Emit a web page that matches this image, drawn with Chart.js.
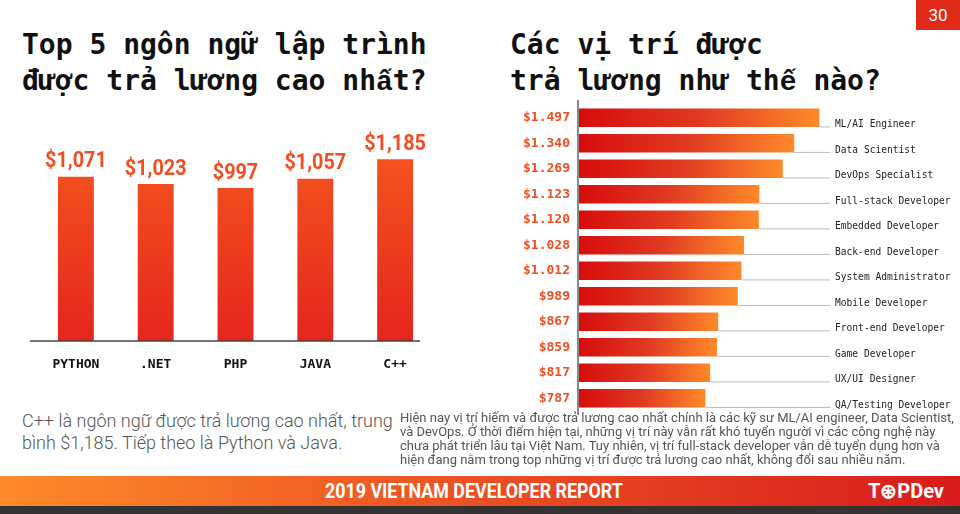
<!DOCTYPE html>
<html><head><meta charset="utf-8">
<script src="https://cdn.jsdelivr.net/npm/chart.js@4"></script>
<style>
body{margin:0;width:960px;height:514px;background:#fff;position:relative;overflow:hidden;font-family:Roboto,sans-serif}
.t{position:absolute;font-family:'DejaVu Sans Mono',monospace;font-weight:bold;font-size:28px;color:#111;line-height:36px;white-space:nowrap}
.t span{font-family:'Liberation Mono',monospace}
.p{position:absolute;color:#555;font-family:Roboto,sans-serif;transform-origin:0 0;white-space:nowrap}
#c1wrap{position:absolute;left:0;top:0;width:460px;height:400px}
#c2wrap{position:absolute;left:500px;top:100px;width:460px;height:315px}
#pg{position:absolute;right:0;top:0;width:44px;height:30px;background:#e02a1a;color:#fff;font-size:17px;text-align:center;line-height:30px}
#ban{position:absolute;left:0;top:476px;width:960px;height:30px;background:linear-gradient(90deg,#ff8a2a,#ef5a24 40%,#d81c1c)}
#ban .tx{position:absolute;left:325px;color:#fff;font-family:Roboto,sans-serif;font-weight:bold;font-size:21px;line-height:30px;transform:scaleX(0.85);transform-origin:0 0;white-space:nowrap}
#ban .lg{position:absolute;right:16px;color:#fff;font-weight:bold;font-size:20px;line-height:30px}
#dk{position:absolute;left:0;top:506px;width:960px;height:8px;background:#333}
</style></head><body>
<div class="t" style="left:22px;top:27px">Top 5 ngôn ngữ lập trình<br>được trả lương cao nh<span>&#x1EA5;</span>t?</div>
<div class="t" style="left:510px;top:27px">Các vị trí được<br>trả lương như th<span>&#x1EBF;</span> nào?</div>
<div id="pg">30</div>
<div id="c1wrap"><canvas id="c1"></canvas></div>
<div id="c2wrap"><canvas id="c2"></canvas></div>
<div class="p" style="left:22px;top:410px;font-size:18px;line-height:22px;font-weight:300">C++ là ngôn ngữ được trả lương cao nhất, trung<br>bình $1,185. Tiếp theo là Python và Java.</div>
<div class="p" style="left:400px;top:411px;font-size:13px;line-height:14px">Hiện nay vị trí hiếm và được trả lương cao nhất chính là các kỹ sư ML/AI engineer, Data Scientist,<br>và DevOps. Ở thời điểm hiện tại, những vị trí này vẫn rất khó tuyển người vì các công nghệ này<br>chưa phát triển lâu tại Việt Nam. Tuy nhiên, vị trí full-stack developer vẫn dễ tuyển dụng hơn và<br>hiện đang nằm trong top những vị trí được trả lương cao nhất, không đổi sau nhiều năm.</div>
<div id="ban"><div class="tx">2019 VIETNAM DEVELOPER REPORT</div><div class="lg">T⊛PDev</div></div>
<div id="dk"></div>
<script>
const languages = ['PYTHON', '.NET', 'PHP', 'JAVA', 'C++'];
const langSalary = [1071, 1023, 997, 1057, 1185];
const langLabels = ['$1,071', '$1,023', '$997', '$1,057', '$1,185'];

const roles = ['ML/AI Engineer', 'Data Scientist', 'DevOps Specialist', 'Full-stack Developer', 'Embedded Developer',
  'Back-end Developer', 'System Administrator', 'Mobile Developer', 'Front-end Developer', 'Game Developer',
  'UX/UI Designer', 'QA/Testing Developer'];
const roleSalary = [1497, 1340, 1269, 1123, 1120, 1028, 1012, 989, 867, 859, 817, 787];
const roleLabels = ['$1.497', '$1.340', '$1.269', '$1.123', '$1.120', '$1.028', '$1.012', '$989', '$867', '$859', '$817', '$787'];

const accent = '#f04e23';

function vGrad(ctx) {
  const { chart } = ctx;
  if (!chart.chartArea) return accent;
  const y = chart.scales.y;
  const g = chart.ctx.createLinearGradient(0, y.getPixelForValue(1200), 0, y.getPixelForValue(0));
  g.addColorStop(0, '#f4521f'); g.addColorStop(1, '#e5261c');
  return g;
}
function hGrad(ctx) {
  const { chart } = ctx;
  if (!chart.chartArea || ctx.raw == null) return '#e53';
  const x = chart.scales.x;
  const g = chart.ctx.createLinearGradient(x.getPixelForValue(0), 0, x.getPixelForValue(ctx.raw), 0);
  g.addColorStop(0, '#d80c0c'); g.addColorStop(0.5, '#e03a22'); g.addColorStop(1, '#ff8a2a');
  return g;
}

const langDecor = {
  id: 'langDecor',
  afterDatasetsDraw(chart) {
    const c = chart.ctx, meta = chart.getDatasetMeta(0), base = chart.scales.y.getPixelForValue(0);
    c.save();
    c.strokeStyle = '#444'; c.lineWidth = 1.5;
    c.beginPath(); c.moveTo(30, base); c.lineTo(420, base); c.stroke();
    c.textAlign = 'center';
    meta.data.forEach((bar, i) => {
      c.fillStyle = accent; c.font = 'bold 22px Roboto, sans-serif';
      c.textBaseline = 'bottom';
      c.save(); c.translate(bar.x, bar.y - 4); c.scale(0.9, 1);
      c.fillText(langLabels[i], 0, 0); c.restore();
      c.fillStyle = '#111'; c.font = 'bold 13px "DejaVu Sans Mono", monospace';
      c.textBaseline = 'middle'; c.fillText(languages[i], bar.x, base + 24);
    });
    c.restore();
  }
};

new Chart(document.getElementById('c1'), {
  type: 'bar',
  data: { labels: languages, datasets: [{ data: langSalary, backgroundColor: vGrad, barPercentage: 0.45, categoryPercentage: 1 }] },
  options: {
    responsive: true, maintainAspectRatio: false, animation: false,
    layout: { padding: { left: 36, right: 25, top: 130, bottom: 59 } },
    plugins: { legend: { display: false }, tooltip: { enabled: false } },
    scales: {
      x: { display: false },
      y: { display: false, min: 0, max: 1375 }
    }
  },
  plugins: [langDecor]
});

const roleDecor = {
  id: 'roleDecor',
  afterDatasetsDraw(chart) {
    const c = chart.ctx, meta = chart.getDatasetMeta(0), area = chart.chartArea;
    c.save();
    c.strokeStyle = '#888'; c.lineWidth = 2;
    c.beginPath(); c.moveTo(area.left - 1, 0); c.lineTo(area.left - 1, chart.height); c.stroke();
    meta.data.forEach((bar, i) => {
      const yb = bar.y + bar.height / 2;
      c.strokeStyle = '#bbb'; c.lineWidth = 1;
      c.beginPath(); c.moveTo(bar.x, yb); c.lineTo(area.right, yb); c.stroke();
      c.fillStyle = '#222'; c.font = '9.6px "DejaVu Sans Mono", monospace';
      c.textAlign = 'left'; c.textBaseline = 'middle';
      c.fillText(roles[i], area.right + 5, bar.y + 7);
      c.fillStyle = accent; c.font = 'bold 13px "DejaVu Sans Mono", monospace';
      c.textAlign = 'right'; c.fillText(roleLabels[i], area.left - 9, bar.y);
    });
    c.restore();
  }
};

new Chart(document.getElementById('c2'), {
  type: 'bar',
  data: { labels: roles, datasets: [{ data: roleSalary, backgroundColor: hGrad, barPercentage: 0.72, categoryPercentage: 1 }] },
  options: {
    indexAxis: 'y', responsive: true, maintainAspectRatio: false, animation: false,
    layout: { padding: { left: 79, right: 130, top: 5, bottom: 4 } },
    plugins: { legend: { display: false }, tooltip: { enabled: false } },
    scales: {
      x: { display: false, min: 0, max: 1563 },
      y: { display: false }
    }
  },
  plugins: [roleDecor]
});
</script>
</body></html>
